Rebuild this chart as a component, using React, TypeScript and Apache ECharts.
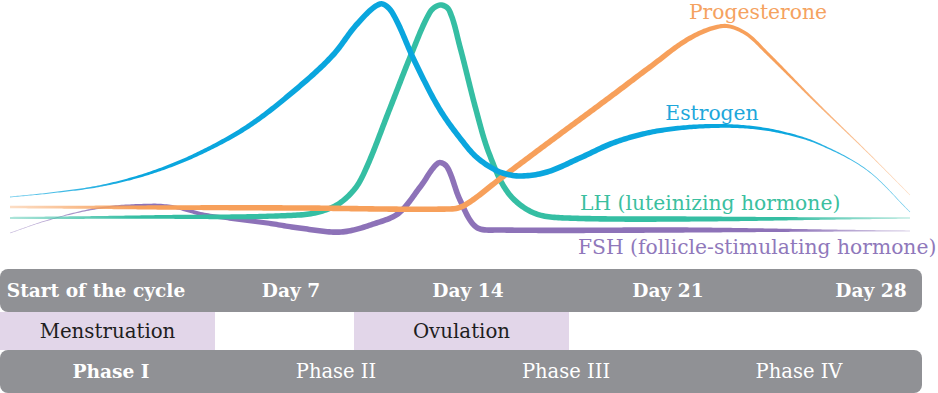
import React, { useEffect, useRef } from 'react';
import * as echarts from 'echarts';

// Hormone levels (arbitrary units 0-100) by cycle day (0-28)
const estrogen: [number, number][] = [[0, 21.2], [1.24, 22.8], [2.8, 25.6], [4.36, 30.8], [5.91, 38.8], [7.47, 50], [9.02, 65.6], [10.05, 78], [10.8, 90.4], [11.51, 98.4], [11.88, 95.2], [12.6, 75.2], [13.38, 56], [14.22, 41.2], [14.62, 36], [15.24, 31.2], [15.87, 29.6], [16.71, 31.2], [17.73, 36.8], [18.76, 42.8], [19.82, 46.8], [20.84, 48.8], [21.87, 49.6], [22.93, 49.2], [23.96, 47.2], [25.1, 42.8], [26.66, 32], [28, 15.2]];
const lh: [number, number][] = [[0, 12.8], [4.4, 13.2], [9.0, 14], [10.05, 17.2], [10.7, 24], [11.1, 33.2], [11.8, 56], [12.5, 78.8], [13.07, 95.2], [13.38, 98], [13.66, 96], [14.0, 81.2], [14.5, 56], [14.9, 38.8], [15.5, 22.8], [16.3, 14.8], [17.3, 12.8], [21.5, 12.4], [28, 12.8]];
const fsh: [number, number][] = [[0, 6.8], [1.2, 12], [2.8, 16.8], [4.4, 18], [5.1, 17.2], [6.1, 14], [8.0, 10.8], [9.0, 8.8], [10.3, 7.2], [11.4, 10.8], [12.1, 14.8], [12.76, 25.2], [13.32, 34.8], [13.6, 33.2], [14.0, 20], [14.5, 9.2], [15.2, 8], [21.5, 8], [28, 7.6]];
const progesterone: [number, number][] = [[0, 17.2], [9.0, 16.8], [13.7, 16.4], [14.16, 18], [15.24, 28.4], [16.8, 43.4], [18.67, 61.2], [19.91, 73.2], [21.16, 84.8], [22.18, 89.6], [22.87, 86.8], [23.55, 78.8], [25.1, 58.8], [26.7, 38.8], [28, 22]];

const hormoneNames = ['Estrogen', 'LH (luteinizing hormone)', 'FSH (follicle-stimulating hormone)', 'Progesterone'];
const dayLabels = ['Start of the cycle', 'Day 7', 'Day 14', 'Day 21', 'Day 28'];
const eventLabels = ['Menstruation', 'Ovulation'];
const phaseLabels = ['Phase I', 'Phase II', 'Phase III', 'Phase IV'];

const FONT = '"DejaVu Serif", serif';

type Taper = { s: number; e: number; a: number; b: number; color: string; fadeL: number; fadeR: number };

function splinePoints(pts: number[][]): number[][] {
  const n = pts.length;
  const t: number[] = [0];
  for (let i = 1; i < n; i++) {
    const dx = pts[i][0] - pts[i - 1][0];
    const dy = pts[i][1] - pts[i - 1][1];
    t.push(t[i - 1] + Math.max(1e-6, Math.sqrt(dx * dx + dy * dy)));
  }
  const m: number[][] = [];
  for (let i = 0; i < n; i++) {
    const a = Math.max(0, i - 1);
    const b = Math.min(n - 1, i + 1);
    const dt = t[b] - t[a];
    m.push([(pts[b][0] - pts[a][0]) / dt, (pts[b][1] - pts[a][1]) / dt]);
  }
  const out: number[][] = [];
  for (let i = 0; i < n - 1; i++) {
    const dt = t[i + 1] - t[i];
    const steps = Math.max(4, Math.ceil(dt / 2));
    for (let k = 0; k < steps; k++) {
      const s = k / steps;
      const s2 = s * s, s3 = s2 * s;
      const h00 = 2 * s3 - 3 * s2 + 1, h10 = s3 - 2 * s2 + s, h01 = -2 * s3 + 3 * s2, h11 = s3 - s2;
      out.push([
        h00 * pts[i][0] + h10 * dt * m[i][0] + h01 * pts[i + 1][0] + h11 * dt * m[i + 1][0],
        h00 * pts[i][1] + h10 * dt * m[i][1] + h01 * pts[i + 1][1] + h11 * dt * m[i + 1][1],
      ]);
    }
  }
  out.push(pts[n - 1]);
  return out;
}

function smooth(x: number) {
  const c = Math.max(0, Math.min(1, x));
  return c * c * (3 - 2 * c);
}

function hexToRgba(hex: string, a: number) {
  const v = parseInt(hex.slice(1), 16);
  return `rgba(${(v >> 16) & 255},${(v >> 8) & 255},${v & 255},${a})`;
}

function makeSeries(data: [number, number][], taper: Taper) {
  const MAXW = 5.6;
  return {
    type: 'custom',
    coordinateSystem: 'cartesian2d',
    clip: false,
    silent: true,
    encode: { x: 0, y: 1 },
    data,
    renderItem: (params: any, api: any) => {
      if (params.dataIndex !== 0) return null;
      const px = data.map((d) => api.coord(d));
      const sp = splinePoints(px);
      const x0 = sp[0][0];
      const x1 = sp[sp.length - 1][0];
      const left: number[][] = [];
      const right: number[][] = [];
      for (let i = 0; i < sp.length; i++) {
        const p = sp[i];
        const pa = sp[Math.max(0, i - 1)];
        const pb = sp[Math.min(sp.length - 1, i + 1)];
        let tx = pb[0] - pa[0], ty = pb[1] - pa[1];
        const len = Math.sqrt(tx * tx + ty * ty) || 1;
        tx /= len; ty /= len;
        const u = (p[0] - x0) / (x1 - x0);
        let w = MAXW;
        if (u < taper.a) w = taper.s + (MAXW - taper.s) * smooth(u / taper.a);
        else if (u > 1 - taper.b) w = taper.e + (MAXW - taper.e) * smooth((1 - u) / taper.b);
        const h = w / 2;
        left.push([p[0] - ty * h, p[1] + tx * h]);
        right.push([p[0] + ty * h, p[1] - tx * h]);
      }
      const points = left.concat(right.reverse());
      const fill = new echarts.graphic.LinearGradient(0, 0, 1, 0, [
        { offset: 0, color: hexToRgba(taper.color, taper.fadeL) },
        { offset: 0.14, color: hexToRgba(taper.color, 1) },
        { offset: 0.86, color: hexToRgba(taper.color, 1) },
        { offset: 1, color: hexToRgba(taper.color, taper.fadeR) },
      ]);
      return { type: 'polygon', shape: { points }, style: { fill, stroke: null } };
    },
  };
}

const GRAY = '#909195';
const LAVENDER = '#e2d6e9';

export default function App() {
  const ref = useRef<HTMLDivElement>(null);
  useEffect(() => {
    document.body.style.margin = '0';
    if (!ref.current) return;
    const chart = echarts.init(ref.current, undefined, { renderer: 'svg' });

    const dayX = [96, 291, 468, 668, 871];
    const phaseX = [111, 336, 566, 799];
    const eventBoxes = [[0, 215], [354, 569]];

    const graphic: any[] = [
      { type: 'rect', shape: { x: 0, y: 269, width: 922, height: 43, r: 8 }, style: { fill: GRAY }, z: 1 },
      { type: 'rect', shape: { x: 0, y: 350, width: 922, height: 43, r: 8 }, style: { fill: GRAY }, z: 1 },
    ];
    eventBoxes.forEach((b, i) => {
      graphic.push({ type: 'rect', shape: { x: b[0], y: 312, width: b[1] - b[0], height: 38 }, style: { fill: LAVENDER }, z: 1 });
      graphic.push({
        type: 'text', x: (b[0] + b[1]) / 2, y: 331, z: 2,
        style: { text: eventLabels[i], fill: '#1e1e1e', font: `19.8px ${FONT}`, align: 'center', verticalAlign: 'middle' },
      });
    });
    dayLabels.forEach((t, i) => {
      graphic.push({
        type: 'text', x: dayX[i], y: 290, z: 2,
        style: { text: t, fill: '#ffffff', font: `bold 18.6px ${FONT}`, align: 'center', verticalAlign: 'middle' },
      });
    });
    phaseLabels.forEach((t, i) => {
      graphic.push({
        type: 'text', x: phaseX[i], y: 371, z: 2,
        style: { text: t, fill: '#ffffff', font: `${i === 0 ? 'bold 18.6px' : '19.5px'} ${FONT}`, align: 'center', verticalAlign: 'middle' },
      });
    });
    const hormoneLabelPos = [
      { x: 712, y: 113, align: 'center', color: '#1ea7db' },
      { x: 580, y: 203, align: 'left', color: '#3bbf9f' },
      { x: 578, y: 247, align: 'left', color: '#8f78bb' },
      { x: 758, y: 12, align: 'center', color: '#f5a260' },
    ];
    hormoneNames.forEach((t, i) => {
      const p = hormoneLabelPos[i];
      graphic.push({
        type: 'text', x: p.x, y: p.y, z: 3,
        style: { text: t, fill: p.color, font: `20.3px ${FONT}`, align: p.align, verticalAlign: 'middle' },
      });
    });

    chart.setOption({
      animation: false,
      grid: { left: 10, right: 28, top: 0, bottom: 143 },
      xAxis: { type: 'value', min: 0, max: 28, show: false },
      yAxis: { type: 'value', min: 0, max: 100, show: false },
      graphic,
      series: [
        makeSeries(fsh, { s: 0.6, e: 1.2, a: 0.35, b: 0.3, color: '#8d72b8', fadeL: 0.5, fadeR: 0.3 }),
        makeSeries(lh, { s: 2.2, e: 1.6, a: 0.35, b: 0.3, color: '#35bea3', fadeL: 0.4, fadeR: 0.3 }),
        makeSeries(progesterone, { s: 2.6, e: 0.6, a: 0.3, b: 0.32, color: '#f7a05b', fadeL: 0.35, fadeR: 0.4 }),
        makeSeries(estrogen, { s: 0.8, e: 0.6, a: 0.35, b: 0.35, color: '#0aa6de', fadeL: 0.6, fadeR: 0.6 }),
      ],
    });
    return () => chart.dispose();
  }, []);
  return <div ref={ref} style={{ width: 938, height: 393 }} />;
}
